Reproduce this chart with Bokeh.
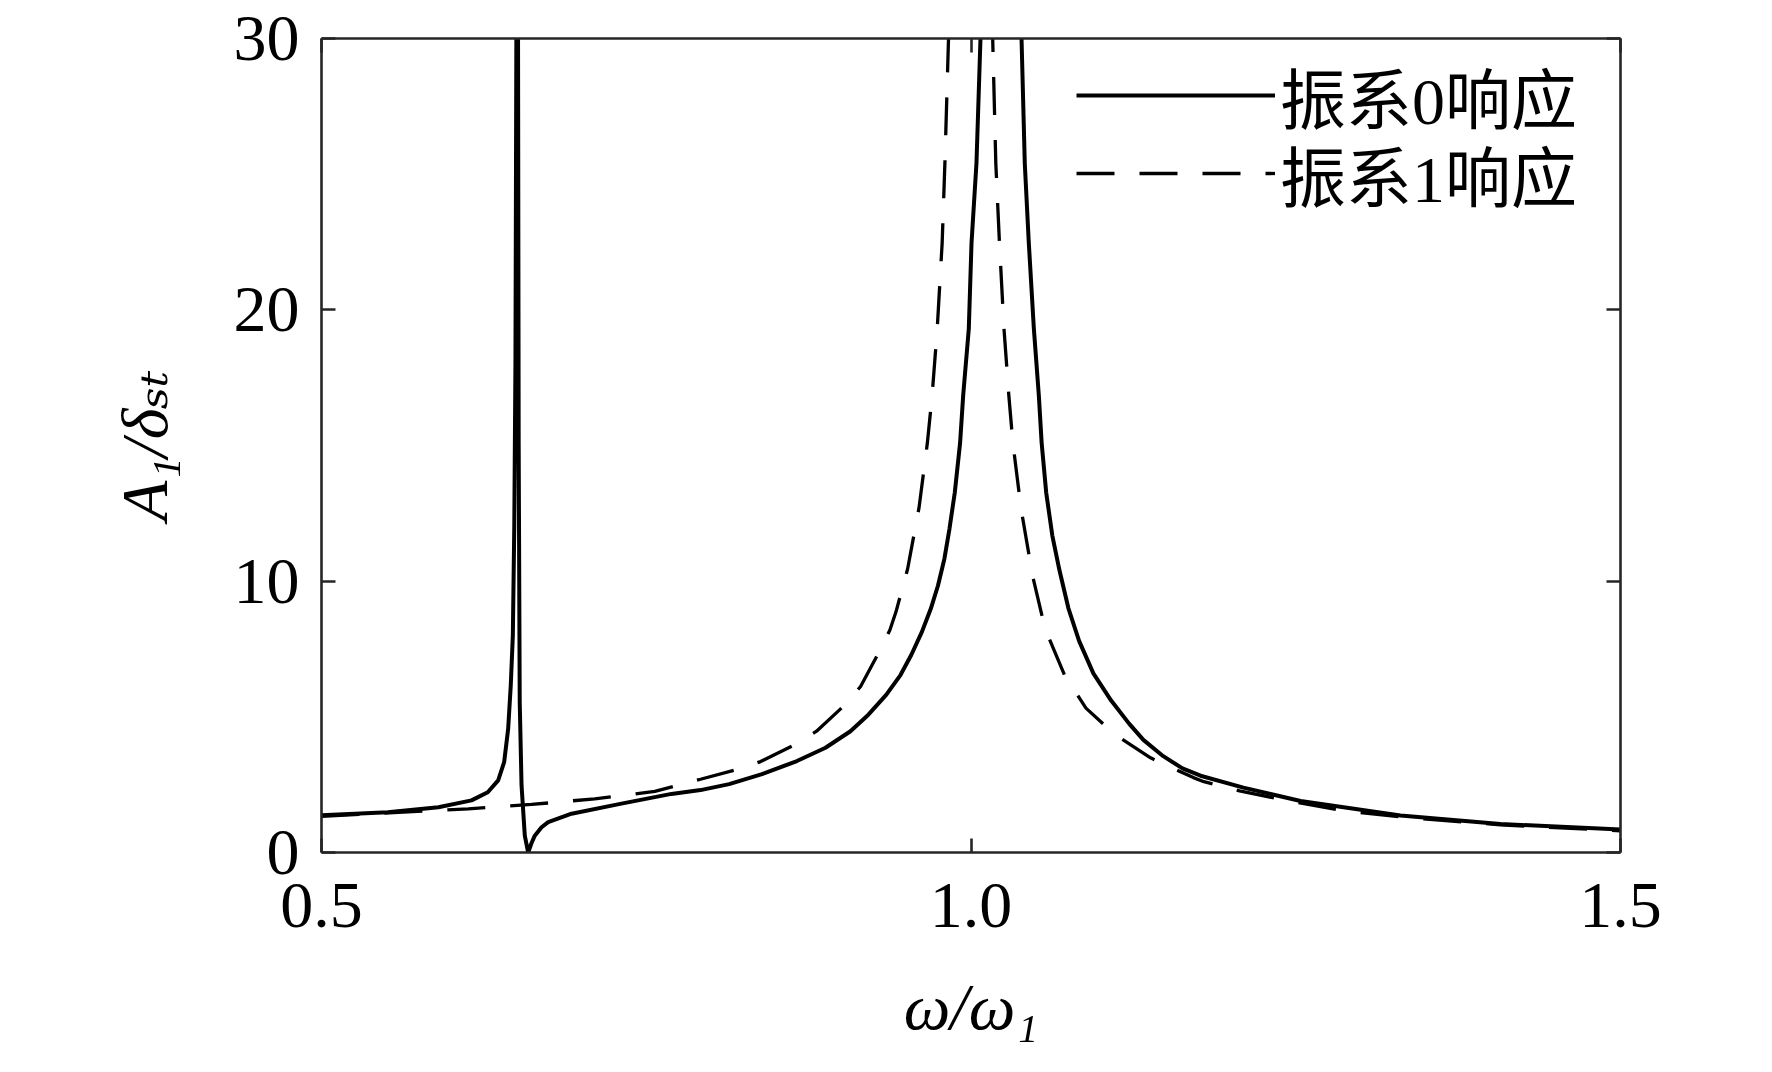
from bokeh.plotting import figure
from bokeh.models import (Range1d, LinearAxis, FixedTicker, PrintfTickFormatter,
                          CustomJSTickFormatter, Legend, LegendItem)
from bokeh.embed import file_html
from bokeh.resources import INLINE

# ---- data ----
omega0 = [0.500, 0.551, 0.590, 0.6155, 0.628, 0.636, 0.6406, 0.6437, 0.6457, 0.6473,
          0.6484, 0.6493, 0.6500, 0.6508, 0.6513, 0.6518, 0.6526, 0.6540, 0.6565, 0.6591,
          0.6617, 0.6642, 0.6694, 0.6745, 0.6925, 0.7309, 0.7694, 0.7918, 0.8138, 0.8385,
          0.8660, 0.8880, 0.9072, 0.9210, 0.9347, 0.9457, 0.9540, 0.9622, 0.9691, 0.9746,
          0.9795, 0.9834, 0.9875, 0.9916, 0.9940, 0.9983, 1.0004, 1.0042, 1.0073, 1.0240,
          1.0389, 1.0414, 1.0445, 1.0484, 1.0522, 1.0544, 1.0579, 1.0626, 1.0681, 1.0750,
          1.0832, 1.0942, 1.1079, 1.1217, 1.1327, 1.1480, 1.1628, 1.1767, 1.2097, 1.2537,
          1.3306, 1.4076, 1.5000]
resp0 = [1.37, 1.48, 1.67, 1.92, 2.22, 2.66, 3.33, 4.56, 6.16, 8.00,
         12.0, 18.0, 30.0, 45.0, 30.0, 15.0, 5.54, 2.47, 0.62, 0.00,
         0.35, 0.62, 0.93, 1.12, 1.43, 1.80, 2.16, 2.30, 2.52, 2.88,
         3.37, 3.86, 4.47, 5.08, 5.81, 6.54, 7.28, 8.13, 8.99, 9.84,
         10.82, 11.92, 13.26, 15.09, 16.86, 19.30, 22.47, 25.40, 30.0, 60.0,
         30.0, 25.40, 22.47, 19.30, 16.86, 15.09, 13.26, 11.68, 10.40, 9.00,
         7.80, 6.60, 5.60, 4.75, 4.15, 3.55, 3.10, 2.83, 2.39, 1.90,
         1.36, 1.05, 0.85]

omega1 = [0.500, 0.613, 0.6617, 0.7104, 0.7566, 0.7918, 0.8206, 0.8380, 0.8646, 0.8811,
          0.9031, 0.9150, 0.9293, 0.9375, 0.9422, 0.9512, 0.9600, 0.9664, 0.9701, 0.9740,
          0.9778, 0.9799, 0.9827, 1.0000, 1.0167, 1.0191, 1.0219, 1.0254, 1.0291, 1.0323,
          1.0386, 1.0474, 1.0570, 1.0720, 1.0885, 1.1107, 1.1382, 1.1712, 1.1793, 1.2067,
          1.2406, 1.2868, 1.3306, 1.4076, 1.5000]
resp1 = [1.33, 1.61, 1.77, 1.98, 2.25, 2.70, 3.07, 3.35, 3.98, 4.47,
         5.45, 6.12, 7.40, 8.19, 8.86, 10.45, 12.71, 15.09, 16.86, 19.30,
         22.47, 25.40, 30.0, 60.0, 30.0, 25.40, 22.47, 19.30, 16.86, 15.07,
         12.65, 10.20, 8.25, 6.54, 5.32, 4.35, 3.49, 2.76, 2.61, 2.27,
         1.94, 1.54, 1.31, 1.02, 0.80]

x_ticks = [0.5, 1.0, 1.5]
y_ticks = [0, 10, 20, 30]
legend_labels = ["振系0响应", "振系1响应"]
x_title = "ω/ω₁"
y_title = "A₁/δₛₜ"

SERIF = "'Liberation Serif', 'DejaVu Serif'"
AX = "#262626"

p = figure(width=1772, height=1072, output_backend="svg", toolbar_location=None,
           x_range=Range1d(0.5, 1.5), y_range=Range1d(0, 30),
           min_border_left=321, min_border_right=152,
           min_border_top=38, min_border_bottom=220)
p.xgrid.visible = False
p.ygrid.visible = False
p.outline_line_color = None
p.background_fill_color = "white"
p.border_fill_color = "white"


def style(ax):
    ax.axis_line_color = AX
    ax.axis_line_width = 2.6
    ax.major_tick_line_color = AX
    ax.major_tick_line_width = 2.6
    ax.major_tick_in = 14
    ax.major_tick_out = 0
    ax.minor_tick_line_color = None
    ax.major_label_text_font = SERIF
    ax.major_label_text_font_size = "66px"
    ax.major_label_text_color = "black"
    ax.axis_label_text_font = SERIF
    ax.axis_label_text_font_size = "66px"
    ax.axis_label_text_font_style = "italic"
    ax.axis_label_text_color = "black"


xa = p.xaxis[0]
ya = p.yaxis[0]
style(xa)
style(ya)
xa.ticker = FixedTicker(ticks=x_ticks)
xa.formatter = PrintfTickFormatter(format="%.1f")
xa.major_label_standoff = 31
xa.axis_label = x_title
xa.axis_label_standoff = 40
ya.ticker = FixedTicker(ticks=y_ticks)
ya.major_label_standoff = 22
ya.axis_label = y_title
ya.axis_label_standoff = 50

top = LinearAxis(ticker=FixedTicker(ticks=x_ticks),
                 formatter=CustomJSTickFormatter(code="return ''"))
right = LinearAxis(ticker=FixedTicker(ticks=y_ticks),
                   formatter=CustomJSTickFormatter(code="return ''"))
for a in (top, right):
    style(a)
    a.major_label_text_font_size = "1px"
    a.major_label_standoff = 0
p.add_layout(top, "above")
p.add_layout(right, "right")

r0 = p.line(omega0, resp0, line_color="black", line_width=4.0, line_join="round")
r1 = p.line(omega1, resp1, line_color="black", line_width=3.3, line_dash="38 25")


def make_legend(label, rend, ybottom):
    lg = Legend(items=[LegendItem(label=label, renderers=[rend])], location=(755, ybottom))
    lg.border_line_color = None
    lg.background_fill_alpha = 0
    lg.padding = 0
    lg.margin = 0
    lg.spacing = 0
    lg.glyph_width = 199
    lg.glyph_height = 100
    lg.label_height = 100
    lg.label_standoff = 5
    lg.label_text_font = "'Liberation Serif', 'Noto Sans CJK SC'"
    lg.label_text_font_size = "66px"
    lg.label_text_color = "black"
    return lg


p.add_layout(make_legend(legend_labels[0], r0, 707))
p.add_layout(make_legend(legend_labels[1], r1, 629))

open("out.html", "w").write(file_html(p, INLINE))
